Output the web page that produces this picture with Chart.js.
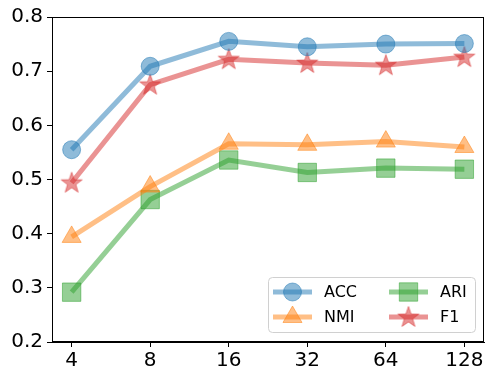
<!DOCTYPE html>
<html>
<head>
<meta charset="utf-8">
<script src="https://cdn.jsdelivr.net/npm/chart.js"></script>
<style>
  html, body { margin: 0; padding: 0; background: #fff; }
  #wrap { width: 498px; height: 381px; }
</style>
</head>
<body>
<div id="wrap"><canvas id="chart" width="498" height="381"></canvas></div>
<script>
// --- data ---
const categories = ['4', '8', '16', '32', '64', '128'];
const accValues = [0.555, 0.709, 0.755, 0.745, 0.750, 0.751];
const nmiValues = [0.394, 0.487, 0.566, 0.564, 0.570, 0.560];
const ariValues = [0.292, 0.463, 0.536, 0.513, 0.521, 0.519];
const f1Values  = [0.494, 0.675, 0.722, 0.715, 0.711, 0.726];
const yTicks = [0.2, 0.3, 0.4, 0.5, 0.6, 0.7, 0.8];

const blue = 'rgba(31,119,180,0.5)';
const orange = 'rgba(255,127,14,0.5)';
const green = 'rgba(44,160,44,0.5)';
const red = 'rgba(214,39,40,0.5)';

// matplotlib style filled star as an image point style
function makeStar(color) {
    const c = document.createElement('canvas');
    c.width = 24; c.height = 24;
    const g = c.getContext('2d');
    g.beginPath();
    for (let i = 0; i < 10; i++) {
        const r = i % 2 === 0 ? 11 : 4.4;
        const a = -Math.PI / 2 + i * Math.PI / 5;
        const px = 12 + r * Math.cos(a), py = 12.5 + r * Math.sin(a);
        if (i === 0) g.moveTo(px, py); else g.lineTo(px, py);
    }
    g.closePath();
    g.fillStyle = color;
    g.fill();
    g.lineWidth = 1;
    g.strokeStyle = color;
    g.stroke();
    return c;
}
const star = makeStar(red);

function series(label, values, color, style, radius) {
    return {
        label: label,
        data: values.map((v, i) => ({ x: i, y: v })),
        borderColor: color,
        backgroundColor: color,
        borderWidth: 5,
        pointStyle: style,
        pointRadius: radius,
        pointBorderWidth: 1,
        pointBorderColor: color,
        pointBackgroundColor: color,
        tension: 0
    };
}

const datasets = [
    series('ACC', accValues, blue, 'circle', 9),
    series('NMI', nmiValues, orange, 'triangle', 11),
    series('ARI', ariValues, green, 'rect', 13),
    series('F1', f1Values, red, star, 10)
];

// box around plot + legend inside the axes, lower right
const framePlugin = {
    id: 'frame',
    afterDraw(chart) {
        const ctx = chart.ctx;
        const a = chart.chartArea;
        ctx.save();
        ctx.strokeStyle = '#000';
        ctx.lineWidth = 1;
        ctx.strokeRect(a.left + 0.5, a.top + 0.5, a.right - a.left - 1, a.bottom - a.top - 1);

        // legend box
        const bw = 207, bh = 55;
        const bx = a.right - 9 - bw, by = a.bottom - 10 - bh;
        ctx.beginPath();
        ctx.roundRect(bx + 0.5, by + 0.5, bw, bh, 4);
        ctx.fillStyle = 'rgba(255,255,255,0.8)';
        ctx.fill();
        ctx.strokeStyle = '#d0d0d0';
        ctx.stroke();

        const order = [[0, 0, 0], [1, 0, 1], [2, 1, 0], [3, 1, 1]];
        ctx.font = '16px "DejaVu Sans"';
        ctx.textBaseline = 'middle';
        order.forEach(([di, col, row]) => {
            const ds = chart.data.datasets[di];
            const lx = bx + 5 + col * 116;
            const ly = by + 15 + row * 25;
            ctx.strokeStyle = ds.borderColor;
            ctx.lineWidth = 5;
            ctx.beginPath();
            ctx.moveTo(lx, ly);
            ctx.lineTo(lx + 39, ly);
            ctx.stroke();
            ctx.fillStyle = ds.pointBackgroundColor;
            ctx.strokeStyle = ds.pointBorderColor;
            ctx.lineWidth = 1;
            Chart.helpers.drawPoint(ctx, {
                pointStyle: ds.pointStyle,
                radius: ds.pointRadius,
                rotation: 0,
                borderWidth: 1
            }, lx + 19.5, ly);
            ctx.fillStyle = '#000';
            ctx.fillText(ds.label, lx + 51, ly + 1);
        });
        ctx.restore();
    }
};

new Chart(document.getElementById('chart'), {
    type: 'line',
    data: { datasets: datasets },
    options: {
        responsive: false,
        animation: false,
        layout: { padding: { top: 17, right: 10, left: 0, bottom: 0 } },
        plugins: { legend: { display: false }, tooltip: { enabled: false } },
        scales: {
            x: {
                type: 'linear',
                min: -0.25,
                max: 5.25,
                afterBuildTicks: s => { s.ticks = categories.map((c, i) => ({ value: i })); },
                afterFit: s => { s.height = 39; },
                ticks: {
                    callback: (v) => categories[v],
                    color: '#000',
                    font: { family: 'DejaVu Sans', size: 20 },
                    padding: 2,
                    maxRotation: 0
                },
                grid: { drawOnChartArea: false, color: '#000', tickLength: 5, tickWidth: 1 },
                border: { color: '#000' }
            },
            y: {
                min: 0.2,
                max: 0.8,
                afterBuildTicks: s => { s.ticks = yTicks.map(v => ({ value: v })); },
                afterFit: s => { s.width = 52; },
                ticks: {
                    callback: v => v.toFixed(1),
                    color: '#000',
                    font: { family: 'DejaVu Sans', size: 20 },
                    padding: 4
                },
                grid: { drawOnChartArea: false, color: '#000', tickLength: 5, tickWidth: 1 },
                border: { color: '#000' }
            }
        }
    },
    plugins: [framePlugin]
});
</script>
</body>
</html>
